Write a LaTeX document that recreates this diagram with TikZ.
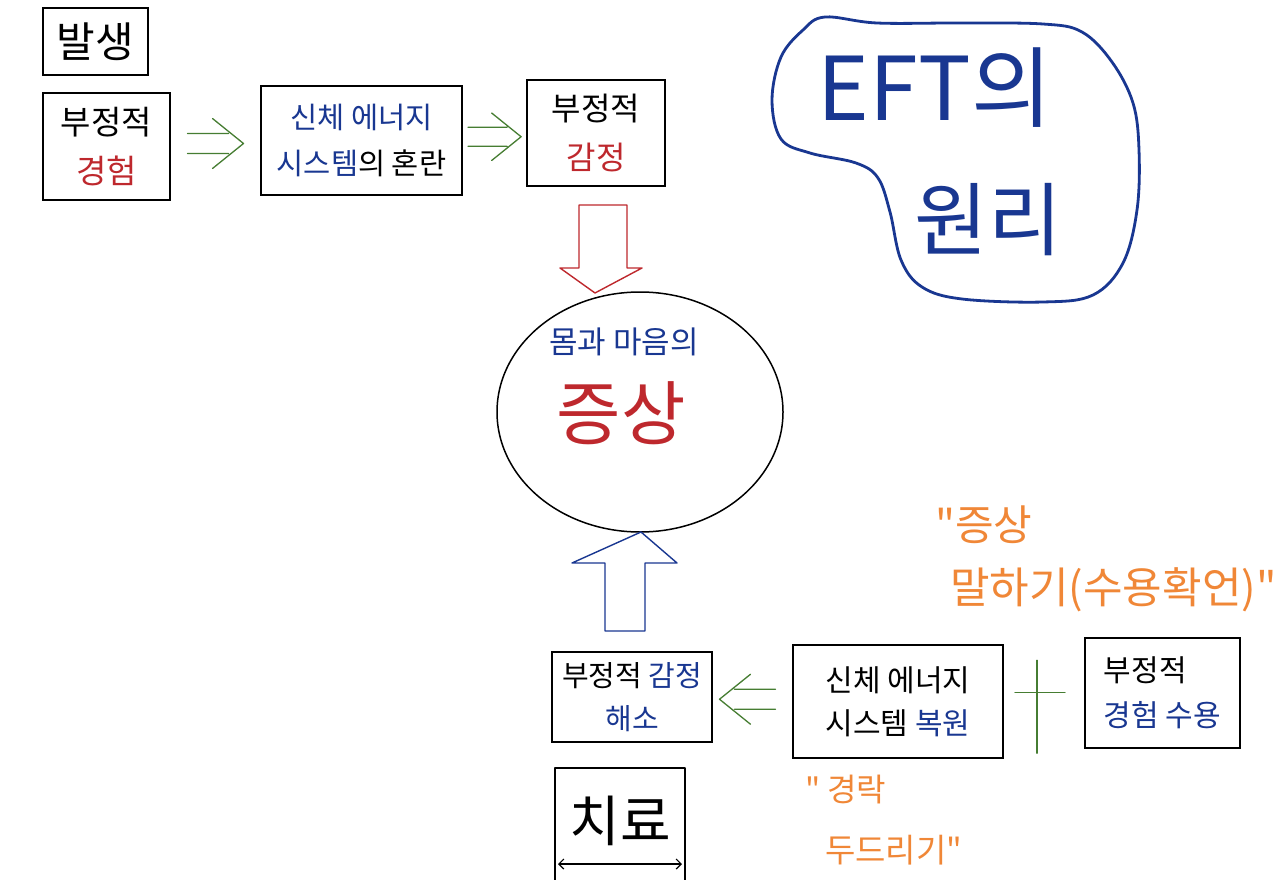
\documentclass[tikz,border=0pt]{standalone}
\usepackage{fontspec}
\newfontfamily\kr{Noto Sans CJK KR}
\usetikzlibrary{shapes.geometric,calc,arrows.meta}
\definecolor{kred}{RGB}{190,40,45}
\definecolor{kblue}{RGB}{25,55,145}
\definecolor{kgreen}{RGB}{70,125,50}
\definecolor{korange}{RGB}{240,135,55}
\newcommand\fsz[2]{\fontsize{#1}{#2}\selectfont}
\tikzset{
  box/.style={draw=black, line width=1.6pt, inner sep=0pt, align=center},
  garrow/.style={draw=kgreen, line width=1.3pt, line cap=round, line join=round},
  hollow/.style={line width=1.4pt, line join=round},
  otext/.style={text=korange, anchor=west, inner sep=0pt},
  pics/implies/.style={code={
    \draw[garrow] (-28,-10) -- (13,-10) (-28,10) -- (13,10) (-3,-25) -- (28,0) -- (-3,25);
  }},
}
\begin{document}
\begin{tikzpicture}[x=1pt,y=-1pt,font=\kr]
\useasboundingbox (0,0) rectangle (1280,880);
\fill[white] (0,0) rectangle (1280,880);

% top row
\node[box, minimum width=105, minimum height=67, font={\kr\fsz{42}{50}}] (bal) at (95.5,41.5) {발생};
\node[box, minimum width=127, minimum height=107, font={\kr\fsz{33}{49}}] (negexp) at (106.5,146.5) {부정적\\\textcolor{kred}{경험}};
\node[box, minimum width=201, minimum height=109, font={\kr\fsz{29.5}{46}}] (chaos) at (361.5,140.5) {\textcolor{kblue}{신체 에너지}\\\textcolor{kblue}{시스템}의 혼란};
\node[box, minimum width=138, minimum height=106, font={\kr\fsz{32}{49}}] (negemo) at (596,133) {부정적\\\textcolor{kred}{감정}};

\coordinate (a1) at ($(negexp.east)!0.5!(chaos.west)$);
\pic at (a1) {implies};
\coordinate (a2) at ($(chaos.east)!0.5!(negemo.west)$);
\pic[scale=0.95] at (a2) {implies};

% red hollow arrow down
\draw[hollow, kred] (579,205) -- (627,205) -- (627,268) -- (642,268) -- (595,293) -- (560,268) -- (579,268) -- cycle;

% symptom circle
\node[draw, ellipse, line width=1.5pt, minimum width=286, minimum height=240, inner sep=0pt] (sym) at (640,412) {};
\node[text=kblue, font={\kr\fsz{31}{33}}, inner sep=0pt] (mind) at (624,342) {몸과 마음의};
\node[text=kred, font={\kr\fsz{70}{72}}, inner sep=0pt] (symtxt) at (621,413) {증상};

% EFT blob
\draw[kblue, line width=2.8pt] plot[smooth cycle, tension=0.6] coordinates {
  (825,17) (877,23) (960,23) (1043,24) (1082,32) (1112,62) (1133,103) (1139,150)
  (1137,210) (1123,263) (1093,295) (1043,302) (962,299) (922,287) (901,260)
  (890,212) (878,178) (856,163) (810,153) (781,139) (772,100) (781,57) (803,30)};
\node[text=kblue, font={\kr\fsz{88}{90}}, inner sep=0pt] (eft) at (935,88) {EFT의};
\node[text=kblue, font={\kr\fsz{80}{90}}, inner sep=0pt] (wonri) at (988,220) {원리};

% blue hollow arrow up
\draw[hollow, kblue] (605,631) -- (605,563) -- (572,563) -- (641,532) -- (677,563) -- (645,563) -- (645,631) -- cycle;

% bottom row
\node[box, minimum width=160, minimum height=90, font={\kr\fsz{29}{43}}] (relief) at (632,697) {부정적 \textcolor{kblue}{감정}\\\textcolor{kblue}{해소}};
\node[box, minimum width=210, minimum height=113, font={\kr\fsz{30}{43}}] (restore) at (898,701.5) {신체 에너지\\시스템 \textcolor{kblue}{복원}};
\node[box, minimum width=155, minimum height=110, align=left, font={\kr\fsz{30}{45}}] (accept) at (1162.5,693) {부정적\\\textcolor{kblue}{경험 수용}};

\coordinate (a3) at ($(relief.east)!0.5!(restore.west)+(-5,0)$);
\pic[rotate=180] at (a3) {implies};

\coordinate (pl) at ($(restore.east)!0.5!(accept.west)$);
\draw[garrow] ($(pl)+(-29,-5)$) -- ($(pl)+(21,-5)$);
\draw[garrow] ($(pl)+(-7,-37)$) -- ($(pl)+(-7,56)$);

% cure box
\node[font={\kr\fsz{55}{60}}, inner sep=0pt] (cure) at (620,821) {치료};
\draw[line width=1.6pt, line join=round] (555,880) -- (555,768) -- (685,768) -- (685,880);
\draw[line width=1.2pt, {Straight Barb[length=5pt]}-{Straight Barb[length=5pt]}] (558,864) -- (682,864);

% orange annotations
\node[otext, font={\kr\fsz{42}{44}}] (q1) at (935,525) {"증상};
\node[otext, font={\kr\fsz{43}{46}}] (q2) at (950,590) {말하기(수용확언)"};
\node[otext, font={\kr\fsz{32}{36}}] (q3) at (805,790) {" 경락};
\node[otext, font={\kr\fsz{33}{36}}] (q4) at (825,850) {두드리기"};
\end{tikzpicture}
\end{document}
